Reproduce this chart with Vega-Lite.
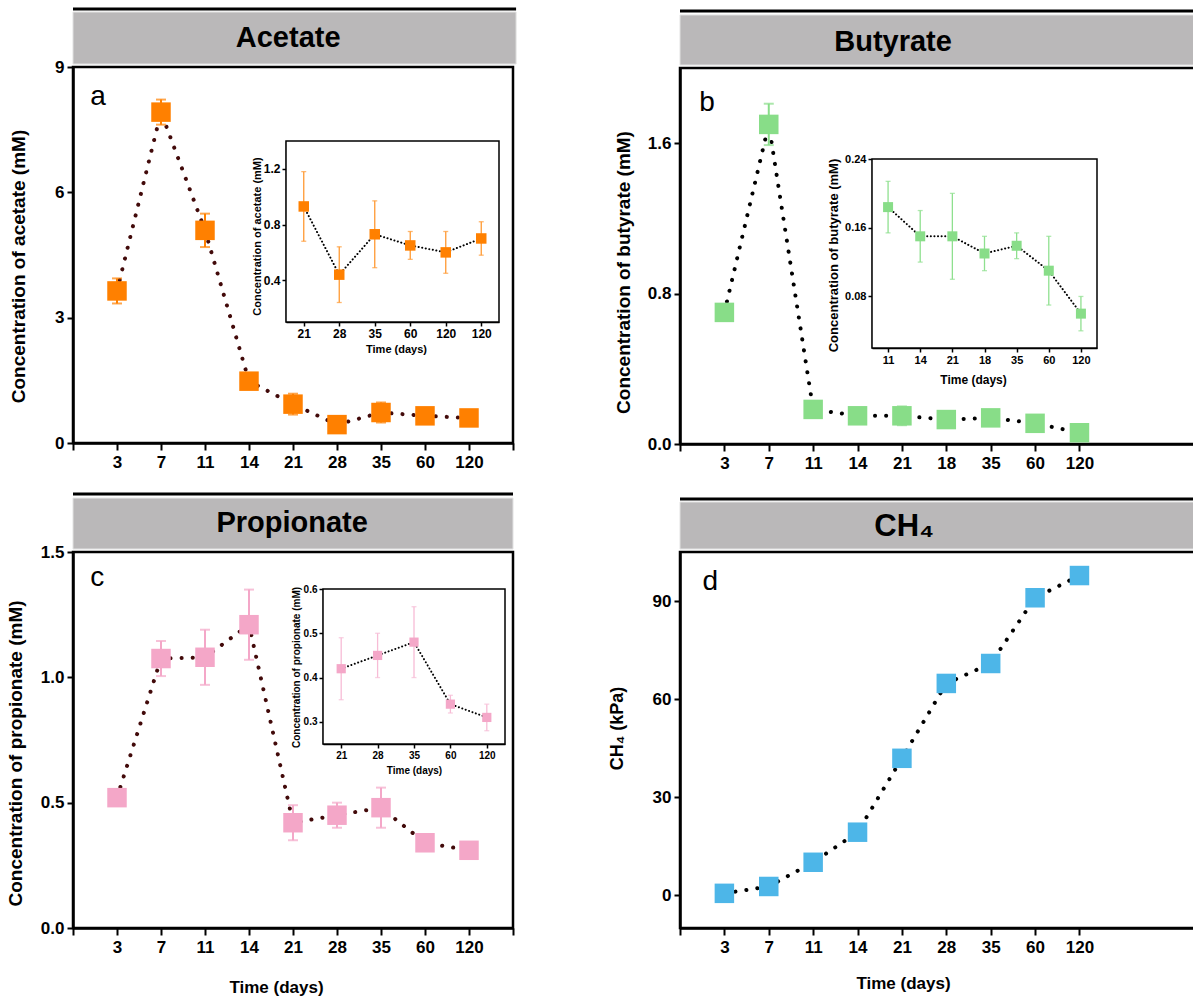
{
  "$schema": "https://vega.github.io/schema/vega-lite/v6.json",
  "width": 1193,
  "height": 998,
  "autosize": {"type": "none"},
  "padding": 0,
  "background": "white",
  "config": {
    "view": {"stroke": "transparent"},
    "font": "Liberation Sans",
    "axis": {
      "grid": false,
      "zindex": 1,
      "domainColor": "black",
      "tickColor": "black",
      "labelColor": "black",
      "titleColor": "black",
      "labelFont": "Liberation Sans",
      "titleFont": "Liberation Sans",
      "labelFontWeight": "bold",
      "titleFontWeight": "bold",
      "labelFlush": false,
      "labelOverlap": false,
      "labelBound": false,
      "titleBaseline": "middle"
    }
  },
  "datasets": {
    "acetate": [
      {"i": 1, "day": "3", "v": 3.64, "err": 0.3},
      {"i": 2, "day": "7", "v": 7.92, "err": 0.3},
      {"i": 3, "day": "11", "v": 5.09, "err": 0.4},
      {"i": 4, "day": "14", "v": 1.48, "err": 0.08},
      {"i": 5, "day": "21", "v": 0.93, "err": 0.25},
      {"i": 6, "day": "28", "v": 0.44, "err": 0.2},
      {"i": 7, "day": "35", "v": 0.73, "err": 0.24},
      {"i": 8, "day": "60", "v": 0.65, "err": 0.1},
      {"i": 9, "day": "120", "v": 0.6, "err": 0.15}
    ],
    "acetate_inset": [
      {"i": 1, "day": "21", "v": 0.93, "err": 0.25},
      {"i": 2, "day": "28", "v": 0.44, "err": 0.2},
      {"i": 3, "day": "35", "v": 0.73, "err": 0.24},
      {"i": 4, "day": "60", "v": 0.65, "err": 0.1},
      {"i": 5, "day": "120", "v": 0.6, "err": 0.15},
      {"i": 6, "day": "120", "v": 0.7, "err": 0.12}
    ],
    "butyrate": [
      {"i": 1, "day": "3", "v": 0.7, "err": 0.01},
      {"i": 2, "day": "7", "v": 1.7, "err": 0.11},
      {"i": 3, "day": "11", "v": 0.184, "err": 0.03},
      {"i": 4, "day": "14", "v": 0.15, "err": 0.03},
      {"i": 5, "day": "21", "v": 0.15, "err": 0.05},
      {"i": 6, "day": "18", "v": 0.13, "err": 0.02},
      {"i": 7, "day": "35", "v": 0.139, "err": 0.015},
      {"i": 8, "day": "60", "v": 0.11, "err": 0.04},
      {"i": 9, "day": "120", "v": 0.06, "err": 0.02}
    ],
    "butyrate_inset": [
      {"i": 1, "day": "11", "v": 0.184, "err": 0.03},
      {"i": 2, "day": "14", "v": 0.15, "err": 0.03},
      {"i": 3, "day": "21", "v": 0.15, "err": 0.05},
      {"i": 4, "day": "18", "v": 0.13, "err": 0.02},
      {"i": 5, "day": "35", "v": 0.139, "err": 0.015},
      {"i": 6, "day": "60", "v": 0.11, "err": 0.04},
      {"i": 7, "day": "120", "v": 0.06, "err": 0.02}
    ],
    "propionate": [
      {"i": 1, "day": "3", "v": 0.52, "err": 0.01},
      {"i": 2, "day": "7", "v": 1.075, "err": 0.07},
      {"i": 3, "day": "11", "v": 1.08, "err": 0.11},
      {"i": 4, "day": "14", "v": 1.21, "err": 0.14},
      {"i": 5, "day": "21", "v": 0.42, "err": 0.07},
      {"i": 6, "day": "28", "v": 0.45, "err": 0.05},
      {"i": 7, "day": "35", "v": 0.48, "err": 0.08},
      {"i": 8, "day": "60", "v": 0.34, "err": 0.02},
      {"i": 9, "day": "120", "v": 0.31, "err": 0.03}
    ],
    "propionate_inset": [
      {"i": 1, "day": "21", "v": 0.42, "err": 0.07},
      {"i": 2, "day": "28", "v": 0.45, "err": 0.05},
      {"i": 3, "day": "35", "v": 0.48, "err": 0.08},
      {"i": 4, "day": "60", "v": 0.34, "err": 0.02},
      {"i": 5, "day": "120", "v": 0.31, "err": 0.03}
    ],
    "ch4": [
      {"i": 1, "day": "3", "v": 0.6},
      {"i": 2, "day": "7", "v": 2.7},
      {"i": 3, "day": "11", "v": 10.1},
      {"i": 4, "day": "14", "v": 19.3},
      {"i": 5, "day": "21", "v": 41.9},
      {"i": 6, "day": "28", "v": 64.8},
      {"i": 7, "day": "35", "v": 70.9},
      {"i": 8, "day": "60", "v": 91.0},
      {"i": 9, "day": "120", "v": 97.8}
    ]
  },
  "layer": [
    {"data": {"values": [{"t": "Acetate"}]}, "mark": {"type": "rect", "fill": "#BAB8B9", "stroke": "#E2E2E2", "strokeWidth": 1},
     "encoding": {"x": {"datum": 0, "type": "quantitative", "scale": {"domain": [0, 10], "range": [73, 513], "nice": false, "zero": false}, "axis": null}, "x2": {"datum": 10.07},
                  "y": {"datum": 9.072, "type": "quantitative", "scale": {"domain": [0, 9], "range": [443, 67], "nice": false, "zero": false}, "axis": null}, "y2": {"datum": 10.316}}},
    {"data": {"values": [{"t": "Acetate"}]}, "mark": {"type": "rule", "stroke": "black", "strokeWidth": 3},
     "encoding": {"x": {"datum": 0, "type": "quantitative", "scale": {"domain": [0, 10], "range": [73, 513], "nice": false, "zero": false}, "axis": null}, "x2": {"datum": 10.07},
                  "y": {"datum": 10.388, "type": "quantitative", "scale": {"domain": [0, 9], "range": [443, 67], "nice": false, "zero": false}, "axis": null}}},
    {"data": {"values": [{"t": "Acetate"}]}, "mark": {"type": "text", "fontSize": 29, "fontWeight": "bold", "align": "center", "baseline": "middle", "color": "black"},
     "encoding": {"x": {"datum": 4.89, "type": "quantitative", "scale": {"domain": [0, 10], "range": [73, 513], "nice": false, "zero": false}, "axis": null},
                  "y": {"datum": 9.694, "type": "quantitative", "scale": {"domain": [0, 9], "range": [443, 67], "nice": false, "zero": false}, "axis": null}, "text": {"field": "t"}}},
    {"data": {"values": [{"t": "a"}]}, "mark": {"type": "text", "fontSize": 28, "align": "center", "baseline": "middle", "color": "black"},
     "encoding": {"x": {"datum": 0.57, "type": "quantitative", "scale": {"domain": [0, 10], "range": [73, 513], "nice": false, "zero": false}, "axis": null},
                  "y": {"datum": 8.28, "type": "quantitative", "scale": {"domain": [0, 9], "range": [443, 67], "nice": false, "zero": false}, "axis": null}, "text": {"field": "t"}}},
    {"data": {"values": [{}]}, "mark": {"type": "rect", "fillOpacity": 0, "stroke": "black", "strokeWidth": 2.5},
     "encoding": {"x": {"datum": 0, "type": "quantitative", "scale": {"domain": [0, 10], "range": [73, 513], "nice": false, "zero": false}, "axis": null}, "x2": {"datum": 10},
                  "y": {"datum": 0, "type": "quantitative", "scale": {"domain": [0, 9], "range": [443, 67], "nice": false, "zero": false}, "axis": null}, "y2": {"datum": 9}}},
    {"data": {"name": "acetate"}, "mark": {"type": "line", "stroke": "#420a0a", "strokeWidth": 4, "strokeDash": [0.1, 11], "strokeCap": "round"},
     "encoding": {"x": {"field": "i", "type": "quantitative", "scale": {"domain": [0, 10], "range": [73, 513], "nice": false, "zero": false}, "axis": null},
                  "y": {"field": "v", "type": "quantitative", "scale": {"domain": [0, 9], "range": [443, 67], "nice": false, "zero": false}, "axis": null}}},
    {"data": {"name": "acetate"}, "mark": {"type": "errorbar", "color": "#FF8000", "thickness": 2, "ticks": {"size": 10, "thickness": 2}},
     "encoding": {"x": {"field": "i", "type": "quantitative", "scale": {"domain": [0, 10], "range": [73, 513], "nice": false, "zero": false}, "axis": null},
                  "y": {"field": "v", "type": "quantitative", "scale": {"domain": [0, 9], "range": [443, 67], "nice": false, "zero": false}, "axis": null}, "yError": {"field": "err"}}},
    {"data": {"name": "acetate"}, "mark": {"type": "point", "shape": "square", "filled": true, "size": 380, "color": "#FF8000", "opacity": 1},
     "encoding": {
       "x": {"field": "i", "type": "quantitative", "scale": {"domain": [0, 10], "range": [73, 513], "nice": false, "zero": false},
             "axis": {"orient": "bottom", "offset": -555, "values": [0, 1, 2, 3, 4, 5, 6, 7, 8, 9, 10], "labelExpr": "['','3','7','11','14','21','28','35','60','120',''][datum.value]", "title": null, "domainWidth": 2.5, "tickWidth": 2, "tickSize": 7, "labelFontSize": 17, "labelPadding": 4}},
       "y": {"field": "v", "type": "quantitative", "scale": {"domain": [0, 9], "range": [443, 67], "nice": false, "zero": false},
             "axis": {"orient": "left", "offset": -73, "values": [0, 3, 6, 9], "format": "d", "title": "Concentration of acetate (mM)", "titleX": -55, "titleY": 266, "titleFontSize": 19, "domainWidth": 2.5, "tickWidth": 2, "tickSize": 6, "labelFontSize": 17, "labelPadding": 3}}
     }},

    {"data": {"values": [{"t": "Butyrate"}]}, "mark": {"type": "rect", "fill": "#BAB8B9", "stroke": "#E2E2E2", "strokeWidth": 1},
     "encoding": {"x": {"datum": 0, "type": "quantitative", "scale": {"domain": [0, 13], "range": [680, 1257], "nice": false, "zero": false}, "axis": null}, "x2": {"datum": 13},
                  "y": {"datum": 2.016, "type": "quantitative", "scale": {"domain": [0, 2], "range": [444, 68], "nice": false, "zero": false}, "axis": null}, "y2": {"datum": 2.282}}},
    {"data": {"values": [{"t": "Butyrate"}]}, "mark": {"type": "rule", "stroke": "black", "strokeWidth": 3},
     "encoding": {"x": {"datum": 0, "type": "quantitative", "scale": {"domain": [0, 13], "range": [680, 1257], "nice": false, "zero": false}, "axis": null}, "x2": {"datum": 13},
                  "y": {"datum": 2.303, "type": "quantitative", "scale": {"domain": [0, 2], "range": [444, 68], "nice": false, "zero": false}, "axis": null}}},
    {"data": {"values": [{"t": "Butyrate"}]}, "mark": {"type": "text", "fontSize": 29, "fontWeight": "bold", "align": "center", "baseline": "middle", "color": "black"},
     "encoding": {"x": {"datum": 4.8, "type": "quantitative", "scale": {"domain": [0, 13], "range": [680, 1257], "nice": false, "zero": false}, "axis": null},
                  "y": {"datum": 2.138, "type": "quantitative", "scale": {"domain": [0, 2], "range": [444, 68], "nice": false, "zero": false}, "axis": null}, "text": {"field": "t"}}},
    {"data": {"values": [{"t": "b"}]}, "mark": {"type": "text", "fontSize": 28, "align": "center", "baseline": "middle", "color": "black"},
     "encoding": {"x": {"datum": 0.61, "type": "quantitative", "scale": {"domain": [0, 13], "range": [680, 1257], "nice": false, "zero": false}, "axis": null},
                  "y": {"datum": 1.814, "type": "quantitative", "scale": {"domain": [0, 2], "range": [444, 68], "nice": false, "zero": false}, "axis": null}, "text": {"field": "t"}}},
    {"data": {"values": [{}]}, "mark": {"type": "rect", "fillOpacity": 0, "stroke": "black", "strokeWidth": 2.5},
     "encoding": {"x": {"datum": 0, "type": "quantitative", "scale": {"domain": [0, 13], "range": [680, 1257], "nice": false, "zero": false}, "axis": null}, "x2": {"datum": 13},
                  "y": {"datum": 0, "type": "quantitative", "scale": {"domain": [0, 2], "range": [444, 68], "nice": false, "zero": false}, "axis": null}, "y2": {"datum": 2}}},
    {"data": {"name": "butyrate"}, "mark": {"type": "line", "stroke": "black", "strokeWidth": 4, "strokeDash": [0.1, 11], "strokeCap": "round"},
     "encoding": {"x": {"field": "i", "type": "quantitative", "scale": {"domain": [0, 13], "range": [680, 1257], "nice": false, "zero": false}, "axis": null},
                  "y": {"field": "v", "type": "quantitative", "scale": {"domain": [0, 2], "range": [444, 68], "nice": false, "zero": false}, "axis": null}}},
    {"data": {"name": "butyrate"}, "mark": {"type": "errorbar", "color": "#88DD88", "thickness": 2, "ticks": {"size": 10, "thickness": 2}},
     "encoding": {"x": {"field": "i", "type": "quantitative", "scale": {"domain": [0, 13], "range": [680, 1257], "nice": false, "zero": false}, "axis": null},
                  "y": {"field": "v", "type": "quantitative", "scale": {"domain": [0, 2], "range": [444, 68], "nice": false, "zero": false}, "axis": null}, "yError": {"field": "err"}}},
    {"data": {"name": "butyrate"}, "mark": {"type": "point", "shape": "square", "filled": true, "size": 380, "color": "#88DD88", "opacity": 1},
     "encoding": {
       "x": {"field": "i", "type": "quantitative", "scale": {"domain": [0, 13], "range": [680, 1257], "nice": false, "zero": false},
             "axis": {"orient": "bottom", "offset": -554, "values": [0, 1, 2, 3, 4, 5, 6, 7, 8, 9], "labelExpr": "['','3','7','11','14','21','18','35','60','120'][datum.value]", "title": null, "domainWidth": 2.5, "tickWidth": 2, "tickSize": 7, "labelFontSize": 17, "labelPadding": 4}},
       "y": {"field": "v", "type": "quantitative", "scale": {"domain": [0, 2], "range": [444, 68], "nice": false, "zero": false},
             "axis": {"orient": "left", "offset": -680, "values": [0, 0.8, 1.6], "format": ".1f", "title": "Concentration of butyrate (mM)", "titleX": -57, "titleY": 272, "titleFontSize": 19, "domainWidth": 2.5, "tickWidth": 2, "tickSize": 6, "labelFontSize": 17, "labelPadding": 3}}
     }},

    {"data": {"values": [{"t": "Propionate"}]}, "mark": {"type": "rect", "fill": "#BAB8B9", "stroke": "#E2E2E2", "strokeWidth": 1},
     "encoding": {"x": {"datum": 0, "type": "quantitative", "scale": {"domain": [0, 10], "range": [73, 513], "nice": false, "zero": false}, "axis": null}, "x2": {"datum": 10},
                  "y": {"datum": 1.512, "type": "quantitative", "scale": {"domain": [0, 1.5], "range": [928, 552], "nice": false, "zero": false}, "axis": null}, "y2": {"datum": 1.715}}},
    {"data": {"values": [{"t": "Propionate"}]}, "mark": {"type": "rule", "stroke": "black", "strokeWidth": 3},
     "encoding": {"x": {"datum": 0, "type": "quantitative", "scale": {"domain": [0, 10], "range": [73, 513], "nice": false, "zero": false}, "axis": null}, "x2": {"datum": 10},
                  "y": {"datum": 1.731, "type": "quantitative", "scale": {"domain": [0, 1.5], "range": [928, 552], "nice": false, "zero": false}, "axis": null}}},
    {"data": {"values": [{"t": "Propionate"}]}, "mark": {"type": "text", "fontSize": 29, "fontWeight": "bold", "align": "center", "baseline": "middle", "color": "black"},
     "encoding": {"x": {"datum": 4.98, "type": "quantitative", "scale": {"domain": [0, 10], "range": [73, 513], "nice": false, "zero": false}, "axis": null},
                  "y": {"datum": 1.616, "type": "quantitative", "scale": {"domain": [0, 1.5], "range": [928, 552], "nice": false, "zero": false}, "axis": null}, "text": {"field": "t"}}},
    {"data": {"values": [{"t": "c"}]}, "mark": {"type": "text", "fontSize": 28, "align": "center", "baseline": "middle", "color": "black"},
     "encoding": {"x": {"datum": 0.55, "type": "quantitative", "scale": {"domain": [0, 10], "range": [73, 513], "nice": false, "zero": false}, "axis": null},
                  "y": {"datum": 1.396, "type": "quantitative", "scale": {"domain": [0, 1.5], "range": [928, 552], "nice": false, "zero": false}, "axis": null}, "text": {"field": "t"}}},
    {"data": {"values": [{}]}, "mark": {"type": "rect", "fillOpacity": 0, "stroke": "black", "strokeWidth": 2.5},
     "encoding": {"x": {"datum": 0, "type": "quantitative", "scale": {"domain": [0, 10], "range": [73, 513], "nice": false, "zero": false}, "axis": null}, "x2": {"datum": 10},
                  "y": {"datum": 0, "type": "quantitative", "scale": {"domain": [0, 1.5], "range": [928, 552], "nice": false, "zero": false}, "axis": null}, "y2": {"datum": 1.5}}},
    {"data": {"name": "propionate"}, "mark": {"type": "line", "stroke": "#420a0a", "strokeWidth": 4, "strokeDash": [0.1, 11], "strokeCap": "round"},
     "encoding": {"x": {"field": "i", "type": "quantitative", "scale": {"domain": [0, 10], "range": [73, 513], "nice": false, "zero": false}, "axis": null},
                  "y": {"field": "v", "type": "quantitative", "scale": {"domain": [0, 1.5], "range": [928, 552], "nice": false, "zero": false}, "axis": null}}},
    {"data": {"name": "propionate"}, "mark": {"type": "errorbar", "color": "#F4A7C8", "thickness": 2, "ticks": {"size": 10, "thickness": 2}},
     "encoding": {"x": {"field": "i", "type": "quantitative", "scale": {"domain": [0, 10], "range": [73, 513], "nice": false, "zero": false}, "axis": null},
                  "y": {"field": "v", "type": "quantitative", "scale": {"domain": [0, 1.5], "range": [928, 552], "nice": false, "zero": false}, "axis": null}, "yError": {"field": "err"}}},
    {"data": {"name": "propionate"}, "mark": {"type": "point", "shape": "square", "filled": true, "size": 380, "color": "#F4A7C8", "opacity": 1},
     "encoding": {
       "x": {"field": "i", "type": "quantitative", "scale": {"domain": [0, 10], "range": [73, 513], "nice": false, "zero": false},
             "axis": {"orient": "bottom", "offset": -70, "values": [0, 1, 2, 3, 4, 5, 6, 7, 8, 9, 10], "labelExpr": "['','3','7','11','14','21','28','35','60','120',''][datum.value]", "title": "Time (days)", "titleX": 276, "titleY": 59, "titleFontSize": 17, "domainWidth": 2.5, "tickWidth": 2, "tickSize": 7, "labelFontSize": 17, "labelPadding": 4}},
       "y": {"field": "v", "type": "quantitative", "scale": {"domain": [0, 1.5], "range": [928, 552], "nice": false, "zero": false},
             "axis": {"orient": "left", "offset": -73, "values": [0, 0.5, 1, 1.5], "format": ".1f", "title": "Concentration of propionate (mM)", "titleX": -58, "titleY": 753, "titleFontSize": 19, "domainWidth": 2.5, "tickWidth": 2, "tickSize": 6, "labelFontSize": 17, "labelPadding": 3}}
     }},

    {"data": {"values": [{"t": "CH₄"}]}, "mark": {"type": "rect", "fill": "#BAB8B9", "stroke": "#E2E2E2", "strokeWidth": 1},
     "encoding": {"x": {"datum": 0, "type": "quantitative", "scale": {"domain": [0, 13], "range": [680, 1257], "nice": false, "zero": false}, "axis": null}, "x2": {"datum": 13},
                  "y": {"datum": 105.92, "type": "quantitative", "scale": {"domain": [-10, 105], "range": [928, 552], "nice": false, "zero": false}, "axis": null}, "y2": {"datum": 120.29}}},
    {"data": {"values": [{"t": "CH₄"}]}, "mark": {"type": "rule", "stroke": "black", "strokeWidth": 3},
     "encoding": {"x": {"datum": 0, "type": "quantitative", "scale": {"domain": [0, 13], "range": [680, 1257], "nice": false, "zero": false}, "axis": null}, "x2": {"datum": 13},
                  "y": {"datum": 121.21, "type": "quantitative", "scale": {"domain": [-10, 105], "range": [928, 552], "nice": false, "zero": false}, "axis": null}}},
    {"data": {"values": [{"t": "CH₄"}]}, "mark": {"type": "text", "fontSize": 31, "fontWeight": "bold", "align": "center", "baseline": "middle", "color": "black"},
     "encoding": {"x": {"datum": 5.05, "type": "quantitative", "scale": {"domain": [0, 13], "range": [680, 1257], "nice": false, "zero": false}, "axis": null},
                  "y": {"datum": 112.6, "type": "quantitative", "scale": {"domain": [-10, 105], "range": [928, 552], "nice": false, "zero": false}, "axis": null}, "text": {"field": "t"}}},
    {"data": {"values": [{"t": "d"}]}, "mark": {"type": "text", "fontSize": 28, "align": "center", "baseline": "middle", "color": "black"},
     "encoding": {"x": {"datum": 0.68, "type": "quantitative", "scale": {"domain": [0, 13], "range": [680, 1257], "nice": false, "zero": false}, "axis": null},
                  "y": {"datum": 95.8, "type": "quantitative", "scale": {"domain": [-10, 105], "range": [928, 552], "nice": false, "zero": false}, "axis": null}, "text": {"field": "t"}}},
    {"data": {"values": [{}]}, "mark": {"type": "rect", "fillOpacity": 0, "stroke": "black", "strokeWidth": 2.5},
     "encoding": {"x": {"datum": 0, "type": "quantitative", "scale": {"domain": [0, 13], "range": [680, 1257], "nice": false, "zero": false}, "axis": null}, "x2": {"datum": 13},
                  "y": {"datum": -10, "type": "quantitative", "scale": {"domain": [-10, 105], "range": [928, 552], "nice": false, "zero": false}, "axis": null}, "y2": {"datum": 105}}},
    {"data": {"name": "ch4"}, "mark": {"type": "line", "stroke": "black", "strokeWidth": 4, "strokeDash": [0.1, 11], "strokeCap": "round"},
     "encoding": {"x": {"field": "i", "type": "quantitative", "scale": {"domain": [0, 13], "range": [680, 1257], "nice": false, "zero": false}, "axis": null},
                  "y": {"field": "v", "type": "quantitative", "scale": {"domain": [-10, 105], "range": [928, 552], "nice": false, "zero": false}, "axis": null}}},
    {"data": {"name": "ch4"}, "mark": {"type": "point", "shape": "square", "filled": true, "size": 380, "color": "#4DB6E8", "opacity": 1},
     "encoding": {
       "x": {"field": "i", "type": "quantitative", "scale": {"domain": [0, 13], "range": [680, 1257], "nice": false, "zero": false},
             "axis": {"orient": "bottom", "offset": -70, "values": [0, 1, 2, 3, 4, 5, 6, 7, 8, 9], "labelExpr": "['','3','7','11','14','21','28','35','60','120'][datum.value]", "title": "Time (days)", "titleX": 903, "titleY": 55, "titleFontSize": 17, "domainWidth": 2.5, "tickWidth": 2, "tickSize": 7, "labelFontSize": 17, "labelPadding": 4}},
       "y": {"field": "v", "type": "quantitative", "scale": {"domain": [-10, 105], "range": [928, 552], "nice": false, "zero": false},
             "axis": {"orient": "left", "offset": -680, "values": [0, 30, 60, 90], "format": "d", "title": "CH₄ (kPa)", "titleX": -63, "titleY": 728, "titleFontSize": 18, "domainWidth": 2.5, "tickWidth": 2, "tickSize": 6, "labelFontSize": 17, "labelPadding": 3}}
     }},

    {"data": {"values": [{}]}, "mark": {"type": "rect", "fill": "white", "stroke": "black", "strokeWidth": 1.5},
     "encoding": {"x": {"datum": 0.5, "type": "quantitative", "scale": {"domain": [0.5, 6.5], "range": [286, 499], "nice": false, "zero": false}, "axis": null}, "x2": {"datum": 6.5},
                  "y": {"datum": 0.1, "type": "quantitative", "scale": {"domain": [0.1, 1.4], "range": [322, 141], "nice": false, "zero": false}, "axis": null}, "y2": {"datum": 1.4}}},
    {"data": {"name": "acetate_inset"}, "mark": {"type": "line", "stroke": "black", "strokeWidth": 2, "strokeDash": [0.1, 3.5], "strokeCap": "round"},
     "encoding": {"x": {"field": "i", "type": "quantitative", "scale": {"domain": [0.5, 6.5], "range": [286, 499], "nice": false, "zero": false}, "axis": null},
                  "y": {"field": "v", "type": "quantitative", "scale": {"domain": [0.1, 1.4], "range": [322, 141], "nice": false, "zero": false}, "axis": null}}},
    {"data": {"name": "acetate_inset"}, "mark": {"type": "errorbar", "color": "#FF9A33", "thickness": 1.3, "ticks": {"size": 5, "thickness": 1.3}},
     "encoding": {"x": {"field": "i", "type": "quantitative", "scale": {"domain": [0.5, 6.5], "range": [286, 499], "nice": false, "zero": false}, "axis": null},
                  "y": {"field": "v", "type": "quantitative", "scale": {"domain": [0.1, 1.4], "range": [322, 141], "nice": false, "zero": false}, "axis": null}, "yError": {"field": "err"}}},
    {"data": {"name": "acetate_inset"}, "mark": {"type": "point", "shape": "square", "filled": true, "size": 110, "color": "#FF8000", "opacity": 1},
     "encoding": {
       "x": {"field": "i", "type": "quantitative", "scale": {"domain": [0.5, 6.5], "range": [286, 499], "nice": false, "zero": false},
             "axis": {"orient": "bottom", "offset": -676, "values": [1, 2, 3, 4, 5, 6], "labelExpr": "['','21','28','35','60','120','120'][datum.value]", "title": "Time (days)", "titleX": 396, "titleY": 27, "titleFontSize": 11, "domainWidth": 1.5, "tickWidth": 1.5, "tickSize": 4, "labelFontSize": 12, "labelPadding": 2}},
       "y": {"field": "v", "type": "quantitative", "scale": {"domain": [0.1, 1.4], "range": [322, 141], "nice": false, "zero": false},
             "axis": {"orient": "left", "offset": -286, "values": [0.4, 0.8, 1.2], "format": ".1f", "title": "Concentration of acetate (mM)", "titleX": -29, "titleY": 236, "titleFontSize": 11, "domainWidth": 1.5, "tickWidth": 1.5, "tickSize": 4, "labelFontSize": 12, "labelPadding": 2}}
     }},

    {"data": {"values": [{}]}, "mark": {"type": "rect", "fill": "white", "stroke": "black", "strokeWidth": 1.5},
     "encoding": {"x": {"datum": 0.5, "type": "quantitative", "scale": {"domain": [0.5, 7.5], "range": [872, 1097], "nice": false, "zero": false}, "axis": null}, "x2": {"datum": 7.5},
                  "y": {"datum": 0.02, "type": "quantitative", "scale": {"domain": [0.02, 0.24], "range": [348, 159], "nice": false, "zero": false}, "axis": null}, "y2": {"datum": 0.24}}},
    {"data": {"name": "butyrate_inset"}, "mark": {"type": "line", "stroke": "black", "strokeWidth": 2, "strokeDash": [0.1, 3.5], "strokeCap": "round"},
     "encoding": {"x": {"field": "i", "type": "quantitative", "scale": {"domain": [0.5, 7.5], "range": [872, 1097], "nice": false, "zero": false}, "axis": null},
                  "y": {"field": "v", "type": "quantitative", "scale": {"domain": [0.02, 0.24], "range": [348, 159], "nice": false, "zero": false}, "axis": null}}},
    {"data": {"name": "butyrate_inset"}, "mark": {"type": "errorbar", "color": "#8FE08F", "thickness": 1.3, "ticks": {"size": 5, "thickness": 1.3}},
     "encoding": {"x": {"field": "i", "type": "quantitative", "scale": {"domain": [0.5, 7.5], "range": [872, 1097], "nice": false, "zero": false}, "axis": null},
                  "y": {"field": "v", "type": "quantitative", "scale": {"domain": [0.02, 0.24], "range": [348, 159], "nice": false, "zero": false}, "axis": null}, "yError": {"field": "err"}}},
    {"data": {"name": "butyrate_inset"}, "mark": {"type": "point", "shape": "square", "filled": true, "size": 100, "color": "#88DD88", "opacity": 1},
     "encoding": {
       "x": {"field": "i", "type": "quantitative", "scale": {"domain": [0.5, 7.5], "range": [872, 1097], "nice": false, "zero": false},
             "axis": {"orient": "bottom", "offset": -650, "values": [1, 2, 3, 4, 5, 6, 7], "labelExpr": "['','11','14','21','18','35','60','120'][datum.value]", "title": "Time (days)", "titleX": 973, "titleY": 31, "titleFontSize": 12, "domainWidth": 1.5, "tickWidth": 1.5, "tickSize": 4, "labelFontSize": 11, "labelPadding": 2}},
       "y": {"field": "v", "type": "quantitative", "scale": {"domain": [0.02, 0.24], "range": [348, 159], "nice": false, "zero": false},
             "axis": {"orient": "left", "offset": -872, "values": [0.08, 0.16, 0.24], "format": ".2f", "title": "Concentration of butyrate (mM)", "titleX": -39, "titleY": 255, "titleFontSize": 13, "domainWidth": 1.5, "tickWidth": 1.5, "tickSize": 4, "labelFontSize": 11, "labelPadding": 2}}
     }},

    {"data": {"values": [{}]}, "mark": {"type": "rect", "fill": "white", "stroke": "black", "strokeWidth": 1.5},
     "encoding": {"x": {"datum": 0.5, "type": "quantitative", "scale": {"domain": [0.5, 5.5], "range": [323, 505], "nice": false, "zero": false}, "axis": null}, "x2": {"datum": 5.5},
                  "y": {"datum": 0.25, "type": "quantitative", "scale": {"domain": [0.25, 0.6], "range": [744, 589], "nice": false, "zero": false}, "axis": null}, "y2": {"datum": 0.6}}},
    {"data": {"name": "propionate_inset"}, "mark": {"type": "line", "stroke": "black", "strokeWidth": 2, "strokeDash": [0.1, 3.5], "strokeCap": "round"},
     "encoding": {"x": {"field": "i", "type": "quantitative", "scale": {"domain": [0.5, 5.5], "range": [323, 505], "nice": false, "zero": false}, "axis": null},
                  "y": {"field": "v", "type": "quantitative", "scale": {"domain": [0.25, 0.6], "range": [744, 589], "nice": false, "zero": false}, "axis": null}}},
    {"data": {"name": "propionate_inset"}, "mark": {"type": "errorbar", "color": "#F7BCD6", "thickness": 1.3, "ticks": {"size": 5, "thickness": 1.3}},
     "encoding": {"x": {"field": "i", "type": "quantitative", "scale": {"domain": [0.5, 5.5], "range": [323, 505], "nice": false, "zero": false}, "axis": null},
                  "y": {"field": "v", "type": "quantitative", "scale": {"domain": [0.25, 0.6], "range": [744, 589], "nice": false, "zero": false}, "axis": null}, "yError": {"field": "err"}}},
    {"data": {"name": "propionate_inset"}, "mark": {"type": "point", "shape": "square", "filled": true, "size": 85, "color": "#F4A7C8", "opacity": 1},
     "encoding": {
       "x": {"field": "i", "type": "quantitative", "scale": {"domain": [0.5, 5.5], "range": [323, 505], "nice": false, "zero": false},
             "axis": {"orient": "bottom", "offset": -254, "values": [1, 2, 3, 4, 5], "labelExpr": "['','21','28','35','60','120'][datum.value]", "title": "Time (days)", "titleX": 414, "titleY": 26, "titleFontSize": 10, "domainWidth": 1.5, "tickWidth": 1.5, "tickSize": 4, "labelFontSize": 10, "labelPadding": 2}},
       "y": {"field": "v", "type": "quantitative", "scale": {"domain": [0.25, 0.6], "range": [744, 589], "nice": false, "zero": false},
             "axis": {"orient": "left", "offset": -323, "values": [0.3, 0.4, 0.5, 0.6], "format": ".1f", "title": "Concentration of propionate (mM)", "titleX": -27, "titleY": 667, "titleFontSize": 10, "domainWidth": 1.5, "tickWidth": 1.5, "tickSize": 4, "labelFontSize": 10, "labelPadding": 2}}
     }}
  ],
  "resolve": {"scale": {"x": "independent", "y": "independent"}, "axis": {"x": "independent", "y": "independent"}}
}
